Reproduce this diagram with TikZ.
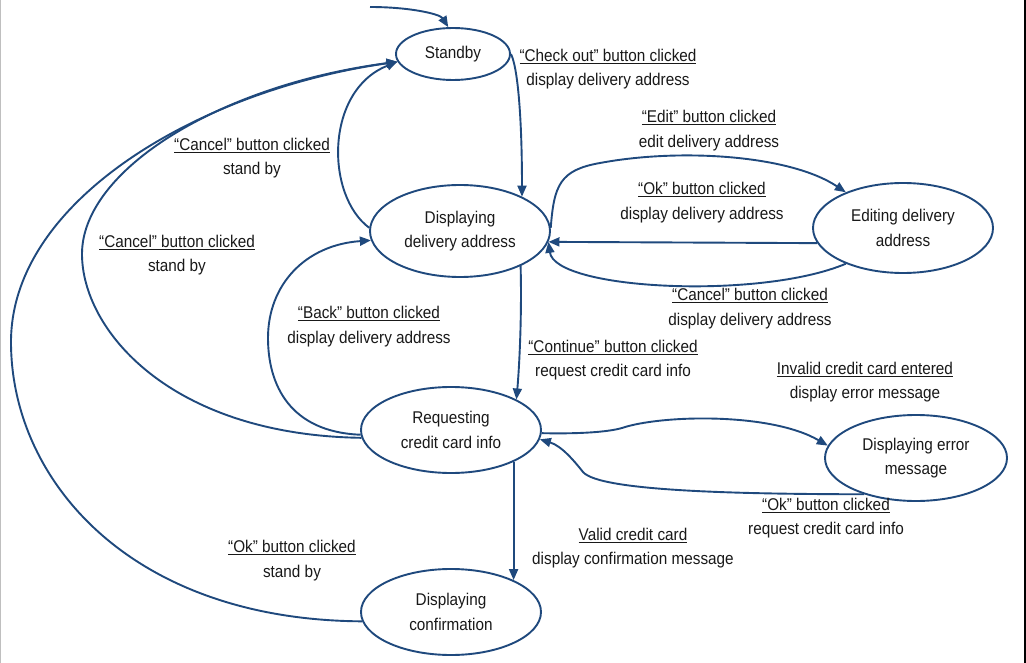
\documentclass[tikz,border=0pt]{standalone}
\usepackage{fontspec}
\setmainfont{Liberation Sans}[FakeStretch=0.9]
\usetikzlibrary{arrows.meta,shapes.geometric}
\definecolor{lineblue}{RGB}{31,73,125}
\definecolor{txt}{RGB}{25,25,25}
\begin{document}
\begin{tikzpicture}[x=1pt,y=-1pt,
  every node/.append style={font=\fontsize{17pt}{24.5pt}\selectfont},
  state/.style={ellipse, draw=lineblue, line width=1.9pt, inner sep=0pt, align=center, text=txt},
  lbl/.style={align=center, text=txt, inner sep=0pt},
  conn/.style={draw=lineblue, line width=1.9pt, -{Triangle[length=11pt,width=9pt]}}]
\useasboundingbox (0,0) rectangle (1026,663);
\fill[white] (0,0) rectangle (1026,663);
\fill[black!25] (0,0) rectangle (1,663);
\fill[black] (1024,0) rectangle (1026,663);

% states
\node[state, minimum width=114pt, minimum height=52pt] (sb) at (453,54) {\raisebox{-2pt}{Standby}};
\node[state, minimum width=180pt, minimum height=92pt] (dd) at (460,231) {Displaying\\delivery address};
\node[state, minimum width=180pt, minimum height=90pt] (ed) at (903,228) {Editing delivery\\address};
\node[state, minimum width=180pt, minimum height=86pt] (rc) at (451,430) {Requesting\\credit card info};
\node[state, minimum width=182pt, minimum height=86pt] (em) at (916,458) {Displaying error\\message};
\node[state, minimum width=180pt, minimum height=86pt] (dc) at (451,612) {Displaying\\confirmation};

% connectors
\coordinate (init) at (370,7);
\draw[conn] (init) .. controls (410,7) and (440,14) .. (sb.100);
\draw[conn] (sb.east) .. controls (518,68) and (522,120) .. (dd.29);
\draw[conn] (dd.178) .. controls (325,195) and (325,90) .. (sb.188);
\draw[conn] (rc.185) .. controls (170,435) and (82,330) .. (82,254) .. controls (82,170) and (220,85) .. (sb.188);
\draw[conn] (dc.186) .. controls (130,620) and (11,480) .. (11,342) .. controls (11,200) and (200,90) .. (sb.188);
\draw[conn] (rc.183) .. controls (290,432) and (268,385) .. (268,338) .. controls (268,285) and (305,245) .. (dd.186);
\draw[conn] (dd.2) .. controls (554,185) and (560,170) .. (600,163) .. controls (680,148) and (790,155) .. (ed.148);
\draw[conn] (ed.190) -- (dd.-7);
\draw[conn] (ed.212) .. controls (760,300) and (555,290) .. (dd.-7);
\draw[conn] (dd.-30) .. controls (522,320) and (519,370) .. (rc.25);
\draw[conn] (rc.-27) -- (dc.27);
\draw[conn] (rc.-2) .. controls (580,434) and (608,432) .. (622,428) .. controls (660,415) and (770,412) .. (em.172);
\draw[conn] (em.215) .. controls (750,494) and (600,492) .. (583,472) .. controls (575,462) and (562,446) .. (rc.-6);

% labels
\node[lbl] (l1) at (608,69) {\underline{“Check out” button clicked}\\display delivery address};
\node[lbl] (l2) at (709,130.5) {\underline{“Edit” button clicked}\\edit delivery address};
\node[lbl] (l3) at (702,202.5) {\underline{“Ok” button clicked}\\display delivery address};
\node[lbl] (l4) at (750,308.5) {\underline{“Cancel” button clicked}\\display delivery address};
\node[lbl] (l5) at (252,158) {\underline{“Cancel” button clicked}\\stand by};
\node[lbl] (l6) at (177,255) {\underline{“Cancel” button clicked}\\stand by};
\node[lbl] (l7) at (369,326.5) {\underline{“Back” button clicked}\\display delivery address};
\node[lbl] (l8) at (613,360) {\underline{“Continue” button clicked}\\request credit card info};
\node[lbl] (l9) at (865,382) {\underline{Invalid credit card entered}\\display error message};
\node[lbl] (l10) at (826,518) {\underline{“Ok” button clicked}\\request credit card info};
\node[lbl] (l11) at (633,548) {\underline{Valid credit card}\\display confirmation message};
\node[lbl] (l12) at (292,560.5) {\underline{“Ok” button clicked}\\stand by};
\end{tikzpicture}
\end{document}
